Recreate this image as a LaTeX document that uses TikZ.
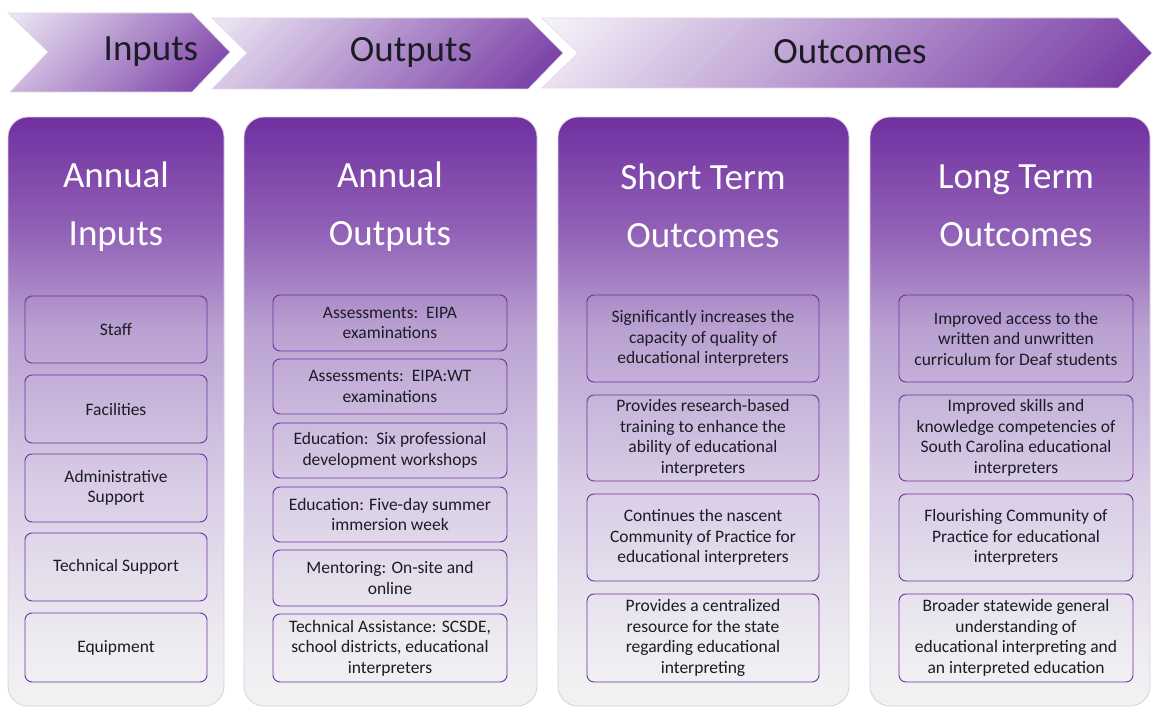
\documentclass[tikz,border=0pt]{standalone}
\usepackage{fontspec}
\setmainfont{Carlito}
\definecolor{vio}{HTML}{7030A0}
\definecolor{chevdark}{HTML}{7030A0}
\definecolor{inktext}{HTML}{1C1C26}
\definecolor{pA}{HTML}{9263B7}
\definecolor{pB}{HTML}{B9A1D1}
\definecolor{pC}{HTML}{D9CDE6}
\definecolor{pD}{HTML}{EEECF1}
\definecolor{pE}{HTML}{F2F2F2}
\definecolor{lightA}{HTML}{EFEAF5}
\definecolor{lightB}{HTML}{F8F6FA}
\pgfdeclareverticalshading{panelshade}{100bp}{%
  color(0bp)=(pE);
  color(25bp)=(pE);
  color(30bp)=(pD);
  color(43.5bp)=(pC);
  color(57bp)=(pB);
  color(65bp)=(pA);
  color(75bp)=(vio);
  color(100bp)=(vio)}
% diagonal gradient fill of a chevron: #1 path, #2 smin, #3 smax, #4 top y, #5 bottom y, #6 light colour
\newcommand\chevfill[6]{%
  \begin{scope}
    \clip #1;
    \pgfmathtruncatemacro\nstrips{(#3-#2)/3}
    \foreach \i in {0,...,\nstrips}{
      \pgfmathsetmacro\sa{#2+3*\i}
      \pgfmathtruncatemacro\pct{\i/\nstrips*100}
      \colorlet{stripc}{chevdark!\pct!#6}
      \fill[stripc] ({\sa-#4},#4) -- ({\sa+3.8-#4},#4) -- ({\sa+3.8-#5},#5) -- ({\sa-#5},#5) -- cycle;
    }
  \end{scope}
  \draw[chevline] #1;
}
\tikzset{
  chevline/.style={draw=white!80!vio, line width=0.6pt},
  chevtext/.style={font=\fontsize{37}{40}\selectfont, text=inktext, inner sep=0pt},
  panel/.style={draw=white!75!vio, line width=0.8pt, shading=panelshade, rounded corners=20pt},
  ptitle/.style={font=\fontsize{37}{58}\selectfont, text=white, align=center, inner sep=0pt},
  ibox/.style={draw=vio, line width=0.9pt, rounded corners=7pt, align=center,
    font=\fontsize{17.5}{20.5}\selectfont, text=inktext, inner sep=0pt},
}
\begin{document}
\begin{tikzpicture}[x=1pt,y=-1pt]
\useasboundingbox[fill=white] (0,0) rectangle (1152,709);
% chevrons
\chevfill{(542,18) -- (1118,18) -- (1152,53) -- (1118,88) -- (542,88) -- (578,53) -- cycle}{555}{1245}{18}{88}{lightB}
\chevfill{(212,18) -- (528,18) -- (563,53) -- (528,89) -- (212,89) -- (247,53) -- cycle}{225}{655}{18}{89}{lightA}
\chevfill{(8,13) -- (192,13) -- (230,52) -- (192,92) -- (10,92) -- (48,52) -- cycle}{18}{325}{13}{92}{lightA}
\node[chevtext] (hin) at (151,52) {Inputs};
\node[chevtext] (hout) at (411,52) {Outputs};
\node[chevtext] (hoc) at (850,52) {Outcomes};
% panels
\path[panel] (8,117) rectangle (224,706);
\path[panel] (244,117) rectangle (537,706);
\path[panel] (558,117) rectangle (849,706);
\path[panel] (870,117) rectangle (1150,706);
\node[ptitle] (t1) at (116,207) {Annual\\Inputs};
\node[ptitle] (t2) at (390,207) {Annual\\Outputs};
\node[ptitle] (t3) at (703,206) {Short Term\\Outcomes};
\node[ptitle] (t4) at (1016,206) {Long Term\\Outcomes};
% panel 1 boxes
\node[ibox, minimum width=182pt, minimum height=67pt] (a1) at (116,329.5) {Staff};
\node[ibox, minimum width=182pt, minimum height=68pt] (a2) at (116,409) {Facilities};
\node[ibox, minimum width=182pt, minimum height=68pt] (a3) at (116,488) {Administrative\\Support};
\node[ibox, minimum width=182pt, minimum height=68pt] (a4) at (116,567) {Technical Support};
\node[ibox, minimum width=182pt, minimum height=69pt] (a5) at (116,647.5) {Equipment};
% panel 2 boxes
\node[ibox, minimum width=234pt, minimum height=56pt] (b1) at (390,323) {Assessments:\ \ EIPA\\examinations};
\node[ibox, minimum width=234pt, minimum height=55pt] (b2) at (390,386.5) {Assessments:\ \ EIPA:WT\\examinations};
\node[ibox, minimum width=234pt, minimum height=55pt] (b3) at (390,450.5) {Education:\ \ Six professional\\development workshops};
\node[ibox, minimum width=234pt, minimum height=55pt] (b4) at (390,514.5) {Education: Five-day summer\\immersion week};
\node[ibox, minimum width=234pt, minimum height=56pt] (b5) at (390,578) {Mentoring: On-site and\\online};
\node[ibox, minimum width=234pt, minimum height=68pt] (b6) at (390,648) {Technical Assistance: SCSDE,\\school districts, educational\\interpreters};
% panel 3 boxes
\node[ibox, minimum width=232pt, minimum height=87pt] (c1) at (703,338.5) {Significantly increases the\\capacity of quality of\\educational interpreters};
\node[ibox, minimum width=232pt, minimum height=86pt] (c2) at (703,438) {Provides research-based\\training to enhance the\\ability of educational\\interpreters};
\node[ibox, minimum width=232pt, minimum height=87pt] (c3) at (703,537.5) {Continues the nascent\\Community of Practice for\\educational interpreters};
\node[ibox, minimum width=232pt, minimum height=88pt] (c4) at (703,638) {Provides a centralized\\resource for the state\\regarding educational\\interpreting};
% panel 4 boxes
\node[ibox, minimum width=234pt, minimum height=87pt] (d1) at (1016,338.5) {Improved access to the\\written and unwritten\\curriculum for Deaf students};
\node[ibox, minimum width=234pt, minimum height=86pt] (d2) at (1016,438) {Improved skills and\\knowledge competencies of\\South Carolina educational\\interpreters};
\node[ibox, minimum width=234pt, minimum height=87pt] (d3) at (1016,537.5) {Flourishing Community of\\Practice for educational\\interpreters};
\node[ibox, minimum width=234pt, minimum height=88pt] (d4) at (1016,638) {Broader statewide general\\understanding of\\educational interpreting and\\an interpreted education};
\end{tikzpicture}
\end{document}
